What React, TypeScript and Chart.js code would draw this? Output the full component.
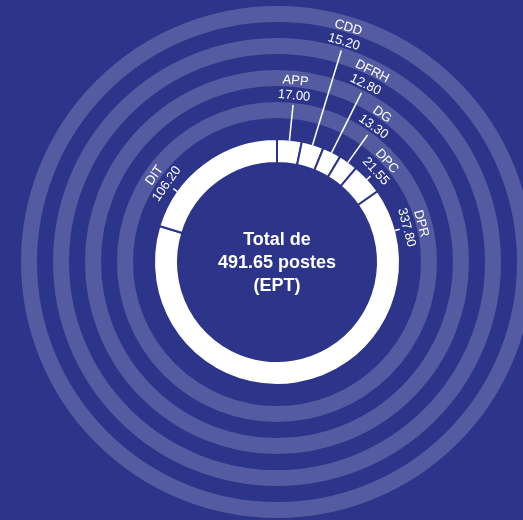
import React, { useEffect, useRef } from "react";
import { Chart, registerables } from "chart.js";

Chart.register(...registerables);

// ---- data ----
const categories = ["APP", "CDD", "DFRH", "DG", "DPC", "DPR", "DIT"];
const values = [17.0, 15.2, 12.8, 13.3, 21.55, 337.8, 106.2];
const valueLabels = ["17.00", "15.20", "12.80", "13.30", "21.55", "337.80", "106.20"];
const centerLines = ["Total de", "491.65 postes", "(EPT)"];

// ---- styling / annotation layout ----
const BG = "#2d358a";
const BAND = "rgba(255,255,255,0.19)";
const ringRadii = [152, 184, 216, 248];
const ringWidth = 16;
const labelAnchor = [0.5, 0.5, 0.5, 0.5, 0.5, 0.087, 0.25];
const leaderEnd = [158, 221, 189, 156, 127, 127, 127];
const valueRadius = [167, 230, 198, 166, 134, 134, 135];
const FONT = '"Liberation Sans", Arial, Helvetica, sans-serif';

const decor = {
  id: "decor",
  beforeDraw(chart: any) {
    const ctx = chart.ctx;
    ctx.save();
    ctx.fillStyle = BG;
    ctx.fillRect(0, 0, chart.width, chart.height);
    ctx.restore();
  },
  beforeDatasetsDraw(chart: any) {
    const arc = chart.getDatasetMeta(0).data[0];
    if (!arc) return;
    const { x, y } = arc.getProps(["x", "y"], true);
    const ctx = chart.ctx;
    ctx.save();
    ctx.strokeStyle = BAND;
    ctx.lineWidth = ringWidth;
    ringRadii.forEach((r) => {
      ctx.beginPath();
      ctx.arc(x, y, r, 0, Math.PI * 2);
      ctx.stroke();
    });
    ctx.restore();
  },
  afterDatasetsDraw(chart: any) {
    const meta = chart.getDatasetMeta(0);
    const ctx = chart.ctx;
    ctx.save();
    meta.data.forEach((el: any, i: number) => {
      const p = el.getProps(["x", "y", "startAngle", "endAngle", "outerRadius"], true);
      const a = p.startAngle + labelAnchor[i] * (p.endAngle - p.startAngle);
      const c = Math.cos(a);
      const s = Math.sin(a);
      const r0 = p.outerRadius - 1;
      ctx.strokeStyle = "#ffffff";
      ctx.lineWidth = 1.5;
      ctx.beginPath();
      ctx.moveTo(p.x + c * r0, p.y + s * r0);
      ctx.lineTo(p.x + c * leaderEnd[i], p.y + s * leaderEnd[i]);
      ctx.stroke();

      let theta = a + Math.PI / 2;
      while (theta > Math.PI) theta -= Math.PI * 2;
      while (theta < -Math.PI) theta += Math.PI * 2;
      ctx.save();
      ctx.translate(p.x, p.y);
      ctx.rotate(theta);
      ctx.fillStyle = "#ffffff";
      ctx.font = `13px ${FONT}`;
      ctx.textAlign = "center";
      ctx.textBaseline = "middle";
      ctx.fillText(valueLabels[i], 0, -valueRadius[i]);
      ctx.fillText(categories[i], 0, -(valueRadius[i] + 15));
      ctx.restore();
    });

    const first = meta.data[0];
    if (first) {
      const { x, y } = first.getProps(["x", "y"], true);
      ctx.fillStyle = "#ffffff";
      ctx.font = `bold 18px ${FONT}`;
      ctx.textAlign = "center";
      ctx.textBaseline = "middle";
      centerLines.forEach((t, k) => {
        ctx.fillText(t, x, y - 22 + k * 23);
      });
    }
    ctx.restore();
  },
};

export default function App() {
  const ref = useRef<HTMLCanvasElement | null>(null);
  useEffect(() => {
    if (!ref.current) return;
    const chart = new Chart(ref.current, {
      type: "doughnut",
      data: {
        labels: categories,
        datasets: [
          {
            data: values,
            backgroundColor: "#ffffff",
            borderColor: BG,
            borderWidth: 2,
            hoverOffset: 0,
          },
        ],
      },
      options: {
        animation: false,
        responsive: true,
        maintainAspectRatio: false,
        cutout: "80.5%",
        layout: { padding: { left: 153, right: 122, top: 138, bottom: 134 } },
        plugins: {
          legend: { display: false },
          tooltip: { enabled: false },
        },
        events: [],
      },
      plugins: [decor],
    } as any);
    return () => chart.destroy();
  }, []);
  return (
    <div
      style={{
        position: "absolute",
        left: 0,
        top: 0,
        width: 523,
        height: 520,
        background: BG,
      }}
    >
      <canvas ref={ref} />
    </div>
  );
}
